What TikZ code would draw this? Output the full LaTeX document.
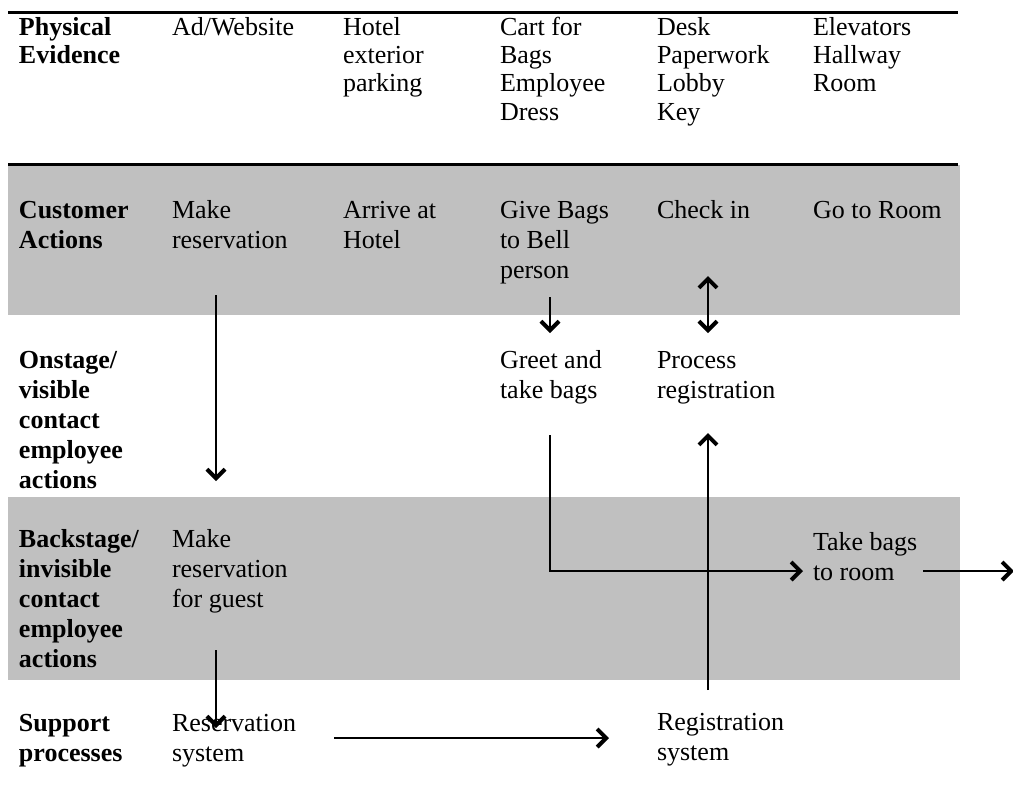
\documentclass[tikz,border=0pt]{standalone}
\usepackage{fontspec}
\setmainfont{Liberation Serif}
\usetikzlibrary{arrows.meta}
\definecolor{band}{RGB}{192,192,192}
\newcommand{\ml}[1]{\begin{tabular}[t]{@{}l@{}}#1\end{tabular}}
\begin{document}
\begin{tikzpicture}[x=1pt,y=-1pt,
  txt/.style={anchor=base west, inner sep=0pt, outer sep=0pt,
    font=\fontsize{26}{30}\selectfont},
  txtA/.style={txt, font=\fontsize{26}{28.4}\selectfont},
  hd/.style={txt, font=\fontsize{26}{30}\selectfont\bfseries},
  hdA/.style={txt, font=\fontsize{26}{28.4}\selectfont\bfseries},
  rule/.style={line width=3pt},
  tip/.tip={Straight Barb[length=9pt,width=18pt,line width=4pt]},
  arr/.style={line width=2pt, -tip},
  darr/.style={line width=2pt, tip-tip}]
\useasboundingbox (0,0) rectangle (1013,796);
% bands
\fill[band] (8,165) rectangle (960,315);
\fill[band] (8,497) rectangle (960,680);
\draw[rule] (8,12) -- (958,12);
\draw[rule] (8,164) -- (958,164);
% row 1
\node[hdA]  (pe)   at (19,35)  {\ml{Physical\\Evidence}};
\node[txtA] (ad)   at (172,35) {\ml{Ad/Website}};
\node[txtA] (hot)  at (343,35) {\ml{Hotel\\exterior\\parking}};
\node[txtA] (cart) at (500,35) {\ml{Cart for\\Bags\\Employee\\Dress}};
\node[txtA] (desk) at (657,35) {\ml{Desk\\Paperwork\\Lobby\\Key}};
\node[txtA] (elev) at (813,35) {\ml{Elevators\\Hallway\\Room}};
% row 2
\node[hd]  (ca)   at (19,218)  {\ml{Customer\\Actions}};
\node[txt] (mr)   at (172,218) {\ml{Make\\reservation}};
\node[txt] (arr)  at (343,218) {\ml{Arrive at\\Hotel}};
\node[txt] (gb)   at (500,218) {\ml{Give Bags\\to Bell\\person}};
\node[txt] (ci)   at (657,218) {\ml{Check in}};
\node[txt] (gr)   at (813,218) {\ml{Go to Room}};
% row 3
\node[hd]  (on)   at (19,368)  {\ml{Onstage/\\visible\\contact\\employee\\actions}};
\node[txt] (gt)   at (500,368) {\ml{Greet and\\take bags}};
\node[txt] (pr)   at (657,368) {\ml{Process\\registration}};
% row 4
\node[hd]  (bs)   at (19,547)  {\ml{Backstage/\\invisible\\contact\\employee\\actions}};
\node[txt] (mrg)  at (172,547) {\ml{Make\\reservation\\for guest}};
\node[txt] (tb)   at (813,550) {\ml{Take bags\\to room}};
% row 5
\node[hd]  (sp)   at (19,731)  {\ml{Support\\processes}};
\node[txt] (rs)   at (172,731) {\ml{Reservation\\system}};
\node[txt] (regs) at (657,730) {\ml{Registration\\system}};
% connector end points
\coordinate (a1s) at (216,295); \coordinate (a1e) at (216,481);
\coordinate (a2s) at (550,297); \coordinate (a2e) at (550,333);
\coordinate (a3s) at (708,276); \coordinate (a3e) at (708,333);
\coordinate (a4s) at (550,435); \coordinate (a4e) at (803,571);
\coordinate (a5s) at (708,690); \coordinate (a5e) at (708,433);
\coordinate (a6s) at (923,571); \coordinate (a6e) at (1014,571);
\coordinate (a7s) at (216,650); \coordinate (a7e) at (216,728);
\coordinate (a8s) at (334,738); \coordinate (a8e) at (609,738);
% connectors
\draw[arr]  (a1s) -- (a1e);
\draw[arr]  (a2s) -- (a2e);
\draw[darr] (a3s) -- (a3e);
\draw[arr]  (a4s) |- (a4e);
\draw[arr]  (a5s) -- (a5e);
\draw[arr]  (a6s) -- (a6e);
\draw[arr]  (a7s) -- (a7e);
\draw[arr]  (a8s) -- (a8e);
\end{tikzpicture}
\end{document}
